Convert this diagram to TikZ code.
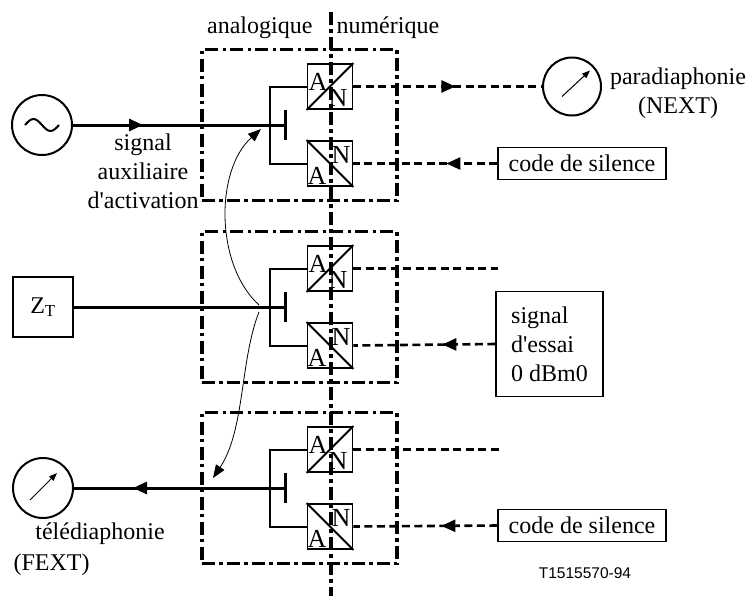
\documentclass[tikz,border=0pt]{standalone}
\usepackage{fontspec}
\setmainfont{Liberation Serif}
\newfontfamily\refsans{Liberation Sans}
\usetikzlibrary{arrows.meta,decorations.markings,positioning}
\tikzset{
	zone/.style={draw,line width=3.3pt,dash pattern=on 13pt off 4pt on 3.5pt off 4.5pt,minimum width=195pt,minimum height=151pt,inner sep=0pt},
	divider/.style={line width=3.3pt,dash pattern=on 13pt off 4pt on 3.5pt off 4.5pt},
	conv/.style={draw,line width=1.8pt,minimum size=45pt,inner sep=0pt},
	letter/.style={font=\fontsize{26}{29}\selectfont,inner sep=0pt},
	wire/.style={line width=3pt},
	bracket/.style={line width=2pt},
	sig/.style={line width=2.6pt,dash pattern=on 8pt off 4.5pt},
	tag/.style={draw,line width=1.3pt,minimum width=168pt,minimum height=32pt,inner sep=2pt},
	meter/.style={draw,circle,line width=2pt,minimum size=60pt,inner sep=0pt},
	needle/.style={line width=1pt,-{Triangle[length=8pt,width=6pt]}},
	hop/.style={line width=0.8pt,-{Triangle[length=13pt,width=10pt]}},
	arrowat/.style={postaction={decorate},decoration={markings,mark=at position #1 with {\arrow{Triangle[length=14pt,width=12pt]}}}}
}
\begin{document}
\begin{tikzpicture}[x=1pt,y=-1pt,font=\fontsize{24}{29}\selectfont]
	\useasboundingbox (0,0) rectangle (754,598);
	% trois blocs avec convertisseurs A/N et N/A
	\foreach \r/\y in {1/125,2/307,3/488}{
	    \node[zone] (z\r) at (299.5,\y) {};
	    \node[conv] (up\r) at (330,\y-38.5) {};
	    \node[conv] (dn\r) at (330,\y+38.5) {};
	    \draw[line width=1.8pt] (up\r.south west) -- (up\r.north east);
	    \draw[line width=1.8pt] (dn\r.north west) -- (dn\r.south east);
	    \node[letter] (ua\r) at ([xshift=-12pt,yshift=5pt]up\r.center) {A};
	    \node[letter] (un\r) at ([xshift=8pt,yshift=-11pt]up\r.center) {N};
	    \node[letter] (dn\r n) at ([xshift=11pt,yshift=9pt]dn\r.center) {N};
	    \node[letter] (da\r) at ([xshift=-13pt,yshift=-12pt]dn\r.center) {A};
	    \coordinate (t\r) at (285,\y);
	    \coordinate (j\r) at (270,\y);
	    \draw[wire] ([yshift=15pt]t\r) -- ([yshift=-15pt]t\r);
	    \draw[bracket] (up\r.west) -| (j\r) |- (dn\r.west);
	}
	% ligne analogique / numerique
	\coordinate (divtop) at (331,12);
	\coordinate (divbot) at (331,596);
	\draw[divider] (divtop) -- (divbot);
	\node[anchor=base east] (ana) at (316,33) {analogique};
	\node[anchor=base west] (num) at (333,33) {numérique};
	% cote analogique
	\node[meter] (src) at (42,125) {};
	\draw[bracket] ([xshift=-17pt]src.center) sin ++(8.5,-6) cos ++(8.5,6) sin ++(8.5,6) cos ++(8.5,-6);
	\draw[wire,arrowat=70pt] (src) -- (t1);
	\node[align=center] (aux) at (143,171) {signal\\auxiliaire\\d\textquotesingle activation};
	\node[draw,line width=1.8pt,minimum size=60pt,inner sep=0pt] (zt) at (43,307) {Z\textsubscript{T}};
	\draw[wire] (zt) -- (t2);
	\node[meter] (fext) at (43,488) {};
	\draw[needle] ([shift={(-13,12)}]fext.center) -- ([shift={(14,-15)}]fext.center);
	\draw[wire,arrowat=152pt] (t3) -- (fext);
	\node[anchor=base] (fextlbl) at (100,539) {télédiaphonie};
	\node[anchor=base] (fextabbr) at (51.5,570) {(FEXT)};
	% diaphonie entre blocs
	\coordinate (s2a) at (259,305);
	\coordinate (s2b) at (259,312);
	\coordinate (e1) at (261,129);
	\coordinate (e3) at (213,478);
	\draw[hop] (s2a) .. controls (215,265) and (215,170) .. (e1);
	\draw[hop] (s2b) .. controls (240,360) and (245,430) .. (e3);
	% cote numerique
	\node[meter,minimum size=58pt] (next) at (572,86.5) {};
	\draw[needle] ([shift={(-10,10)}]next.center) -- ([shift={(18,-16)}]next.center);
	\node[align=center] (nextlbl) at (678,93) {paradiaphonie\\(NEXT)};
	\draw[sig,arrowat=102pt] (up1.east) -- (next);
	\node[tag] (code1) at (582,163.5) {code de silence};
	\draw[sig,arrowat=51pt] (code1.west) -- (dn1.east);
	\coordinate (end2) at (498,268.5);
	\draw[sig] (up2.east) -- (end2);
	\node[tag,align=left,minimum width=107pt,minimum height=105pt] (essai) at (549.5,344) {signal\\d\textquotesingle essai\\0 dBm0};
	\draw[sig,arrowat=53pt] (essai.west) -- (dn2.east);
	\coordinate (end3) at (499,449.5);
	\draw[sig] (up3.east) -- (end3);
	\node[tag] (code2) at (582,525.5) {code de silence};
	\draw[sig,arrowat=56pt] (code2.west) -- (dn3.east);
	\node[anchor=base,font=\refsans\fontsize{15.5}{18}\selectfont] (ref) at (585,578) {T1515570-94};
\end{tikzpicture}
\end{document}
